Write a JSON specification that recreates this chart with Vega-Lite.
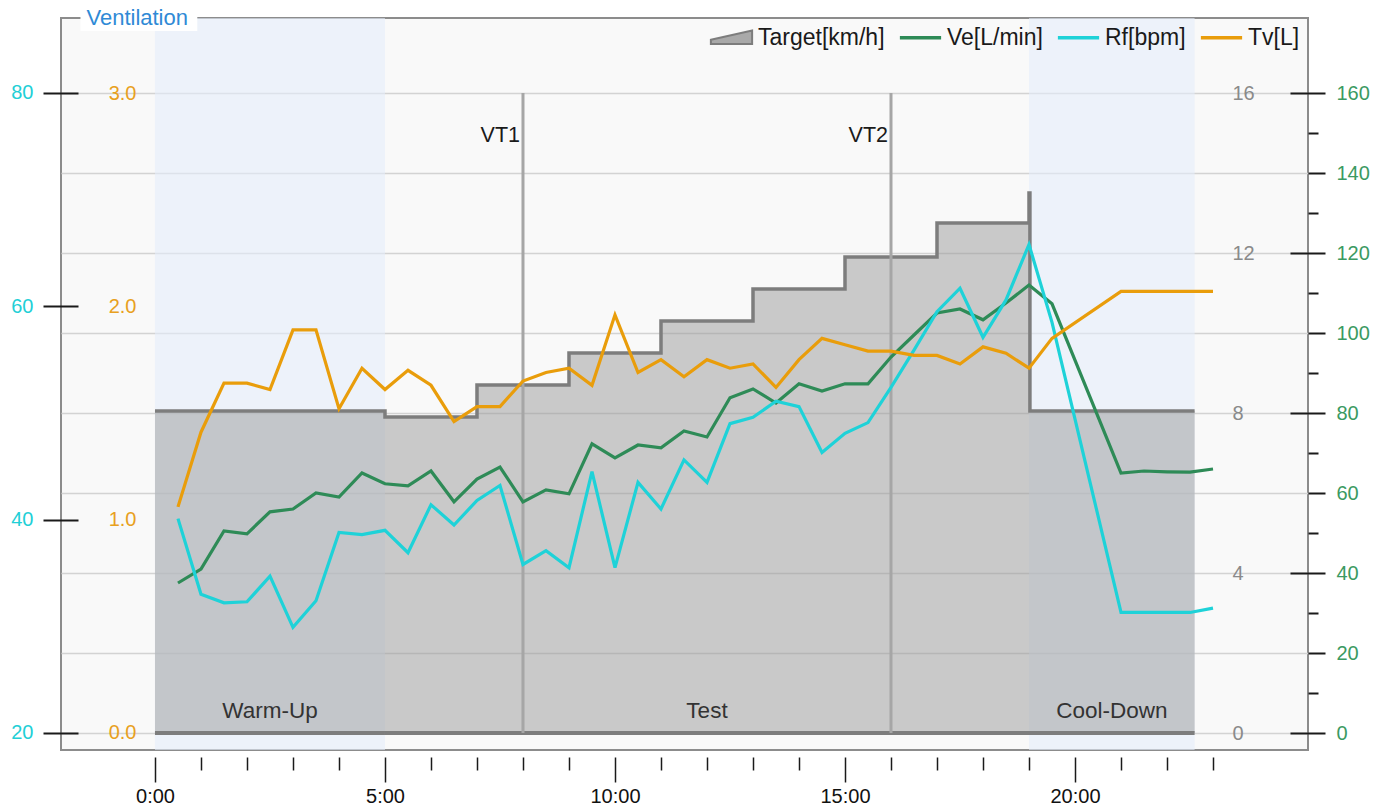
{
  "$schema": "https://vega.github.io/schema/vega-lite/v6.json",
  "width": 1247,
  "height": 732,
  "autosize": {"type": "none"},
  "padding": {"left": 61, "top": 18, "right": 83, "bottom": 56},
  "background": "#ffffff",
  "config": {
    "font": "Liberation Sans",
    "view": {"fill": "#f9f9f9", "stroke": "#8c8c8c", "strokeWidth": 2},
    "axis": {"labelFont": "Liberation Sans"},
    "legend": {"labelFont": "Liberation Sans"},
    "text": {"font": "Liberation Sans"}
  },
  "datasets": {
    "vent": [
      {"t": 0.5, "ve": 37.5, "rf": 40.1, "tv": 1.06},
      {"t": 1.0, "ve": 41.0, "rf": 33.0, "tv": 1.41},
      {"t": 1.5, "ve": 50.5, "rf": 32.2, "tv": 1.64},
      {"t": 2.0, "ve": 49.8, "rf": 32.3, "tv": 1.64},
      {"t": 2.5, "ve": 55.3, "rf": 34.7, "tv": 1.61},
      {"t": 3.0, "ve": 56.0, "rf": 29.9, "tv": 1.89},
      {"t": 3.5, "ve": 60.0, "rf": 32.4, "tv": 1.89},
      {"t": 4.0, "ve": 59.0, "rf": 38.8, "tv": 1.52},
      {"t": 4.5, "ve": 65.0, "rf": 38.6, "tv": 1.71},
      {"t": 5.0, "ve": 62.3, "rf": 39.0, "tv": 1.61},
      {"t": 5.5, "ve": 61.8, "rf": 36.9, "tv": 1.70},
      {"t": 6.0, "ve": 65.5, "rf": 41.4, "tv": 1.63},
      {"t": 6.5, "ve": 57.8, "rf": 39.5, "tv": 1.46},
      {"t": 7.0, "ve": 63.5, "rf": 41.8, "tv": 1.53},
      {"t": 7.5, "ve": 66.5, "rf": 43.2, "tv": 1.53},
      {"t": 8.0, "ve": 57.8, "rf": 35.8, "tv": 1.65},
      {"t": 8.5, "ve": 60.8, "rf": 37.1, "tv": 1.69},
      {"t": 9.0, "ve": 59.8, "rf": 35.5, "tv": 1.71},
      {"t": 9.5, "ve": 72.3, "rf": 44.5, "tv": 1.63},
      {"t": 10.0, "ve": 68.8, "rf": 35.5, "tv": 1.96},
      {"t": 10.5, "ve": 72.0, "rf": 43.5, "tv": 1.69},
      {"t": 11.0, "ve": 71.3, "rf": 41.0, "tv": 1.75},
      {"t": 11.5, "ve": 75.5, "rf": 45.6, "tv": 1.67},
      {"t": 12.0, "ve": 74.0, "rf": 43.5, "tv": 1.75},
      {"t": 12.5, "ve": 83.8, "rf": 49.0, "tv": 1.71},
      {"t": 13.0, "ve": 86.0, "rf": 49.6, "tv": 1.73},
      {"t": 13.5, "ve": 82.5, "rf": 51.1, "tv": 1.62},
      {"t": 14.0, "ve": 87.3, "rf": 50.6, "tv": 1.75},
      {"t": 14.5, "ve": 85.5, "rf": 46.3, "tv": 1.85},
      {"t": 15.0, "ve": 87.3, "rf": 48.1, "tv": 1.82},
      {"t": 15.5, "ve": 87.3, "rf": 49.1, "tv": 1.79},
      {"t": 16.0, "ve": 94.0, "rf": 52.4, "tv": 1.79},
      {"t": 16.5, "ve": 99.5, "rf": 55.9, "tv": 1.77},
      {"t": 17.0, "ve": 105.0, "rf": 59.5, "tv": 1.77},
      {"t": 17.5, "ve": 106.0, "rf": 61.7, "tv": 1.73},
      {"t": 18.0, "ve": 103.3, "rf": 57.1, "tv": 1.81},
      {"t": 18.5, "ve": 107.5, "rf": 60.6, "tv": 1.78},
      {"t": 19.0, "ve": 112.0, "rf": 65.8, "tv": 1.71},
      {"t": 19.5, "ve": 107.3, "rf": 58.5, "tv": 1.85},
      {"t": 21.0, "ve": 65.0, "rf": 31.3, "tv": 2.07},
      {"t": 21.5, "ve": 65.5, "rf": 31.3, "tv": 2.07},
      {"t": 22.0, "ve": 65.3, "rf": 31.3, "tv": 2.07},
      {"t": 22.5, "ve": 65.2, "rf": 31.3, "tv": 2.07},
      {"t": 23.0, "ve": 66.0, "rf": 31.7, "tv": 2.07}
    ],
    "target": [
      {"t": 0, "target": 8.05},
      {"t": 5, "target": 7.9},
      {"t": 7, "target": 8.7},
      {"t": 9, "target": 9.5},
      {"t": 11, "target": 10.3},
      {"t": 13, "target": 11.1},
      {"t": 15, "target": 11.9},
      {"t": 17, "target": 12.75},
      {"t": 19, "target": 13.5},
      {"t": 19.02, "target": 8.05},
      {"t": 22.6, "target": 8.05}
    ],
    "phases": [
      {"phase": "Warm-Up", "start": 0, "end": 5},
      {"phase": "Test", "start": 5, "end": 19},
      {"phase": "Cool-Down", "start": 19, "end": 22.6}
    ],
    "vt": [
      {"vt": "VT1", "t": 8},
      {"vt": "VT2", "t": 16}
    ],
    "heading": [
      {"title": "Ventilation", "from": -1.62, "to": 0.92}
    ]
  },
  "layer": [
    {
      "data": {"name": "phases"},
      "transform": [{"filter": "datum.phase !== 'Test'"}],
      "mark": {"type": "rect", "color": "#e5edfa", "opacity": 0.6},
      "encoding": {
        "x": {
          "field": "start", "type": "quantitative",
          "scale": {"domain": [-2.043, 25.065], "nice": false, "zero": false},
          "axis": {
            "title": null, "orient": "bottom", "offset": 7, "domain": false, "grid": false,
            "values": [0,1,2,3,4,5,6,7,8,9,10,11,12,13,14,15,16,17,18,19,20,21,22,23],
            "tickSize": 25, "tickWidth": 1.5, "tickColor": "#1a1a1a",
            "tickDash": {"condition": {"test": "datum.value % 5 !== 0", "value": [13, 40]}, "value": [40, 0]},
            "labelExpr": "datum.value % 5 === 0 ? datum.value + ':00' : ''",
            "labelPadding": 4, "labelFontSize": 20, "labelColor": "#111111",
            "labelFlush": false, "labelOverlap": false
          }
        },
        "x2": {"field": "end"}
      }
    },
    {
      "layer": [
        {
          "data": {"name": "target"},
          "mark": {"type": "area", "interpolate": "step-after", "color": "#9a9a9a", "opacity": 0.5},
          "encoding": {
            "x": {"field": "t", "type": "quantitative"},
            "y": {
              "field": "target", "type": "quantitative",
              "scale": {"domain": [-0.425, 17.875], "nice": false, "zero": false},
              "axis": {
                "title": null, "orient": "right", "offset": -76, "values": [0, 4, 8, 12, 16],
                "ticks": false, "tickSize": 0, "labelPadding": 0, "labelAlign": "left",
                "labelColor": "#8a8a8a", "labelFontSize": 20, "domain": false, "grid": false, "labelFlush": false
              }
            }
          }
        },
        {
          "data": {"name": "target"},
          "mark": {"type": "line", "interpolate": "step-after", "color": "#7d7d7d", "strokeWidth": 3.5},
          "encoding": {
            "x": {"field": "t", "type": "quantitative"},
            "y": {"field": "target", "type": "quantitative"}
          }
        },
        {
          "data": {"name": "phases"},
          "mark": {"type": "rule", "color": "#7d7d7d", "strokeWidth": 4},
          "encoding": {
            "x": {"field": "start", "type": "quantitative"},
            "x2": {"field": "end"},
            "y": {"datum": 0, "type": "quantitative"}
          }
        }
      ]
    },
    {
      "layer": [
        {
          "data": {"name": "vt"},
          "mark": {"type": "rule", "color": "#a6a6a6", "strokeWidth": 3},
          "encoding": {
            "x": {"field": "t", "type": "quantitative"},
            "y": {"datum": 0, "type": "quantitative"},
            "y2": {"datum": 160}
          }
        },
        {
          "data": {"name": "vt"},
          "mark": {"type": "text", "align": "right", "baseline": "middle", "dx": -3, "fontSize": 21.5, "color": "#1a1a1a"},
          "encoding": {
            "x": {"field": "t", "type": "quantitative"},
            "y": {"datum": 149.25, "type": "quantitative"},
            "text": {"field": "vt"}
          }
        },
        {
          "data": {"name": "phases"},
          "transform": [{"calculate": "(datum.start + datum.end) / 2", "as": "mid"}],
          "mark": {"type": "text", "baseline": "middle", "fontSize": 22.5, "color": "#333333"},
          "encoding": {
            "x": {"field": "mid", "type": "quantitative"},
            "y": {"datum": 5.5, "type": "quantitative"},
            "text": {"field": "phase"}
          }
        },
        {
          "data": {"name": "heading"},
          "mark": {"type": "rect", "color": "#ffffff"},
          "encoding": {
            "x": {"field": "from", "type": "quantitative"},
            "x2": {"field": "to"},
            "y": {"datum": 175.5, "type": "quantitative"},
            "y2": {"datum": 179.0}
          }
        },
        {
          "data": {"name": "heading"},
          "mark": {"type": "text", "align": "left", "baseline": "middle", "dx": 6, "fontSize": 22, "color": "#2f8ad6"},
          "encoding": {
            "x": {"field": "from", "type": "quantitative"},
            "y": {"datum": 178.75, "type": "quantitative"},
            "text": {"field": "title"}
          }
        },
        {
          "data": {"name": "vent"},
          "mark": {"type": "line", "strokeWidth": 3.2},
          "encoding": {
            "x": {"field": "t", "type": "quantitative"},
            "y": {
              "field": "ve", "type": "quantitative",
              "scale": {"domain": [-4.25, 178.75], "nice": false, "zero": false},
              "axis": {
                "title": null, "orient": "right", "offset": -18, "domain": false,
                "values": [0,10,20,30,40,50,60,70,80,90,100,110,120,130,140,150,160],
                "tickSize": 35, "tickWidth": 2, "tickColor": "#1a1a1a",
                "tickDash": {"condition": [{"test": "datum.value % 40 === 0", "value": [40, 0]}, {"test": "datum.value % 20 === 0", "value": [0, 18, 17, 10]}], "value": [0, 18, 10, 30]},
                "labelExpr": "datum.value % 20 === 0 ? datum.label : ''",
                "labelPadding": 11, "labelColor": "#3b9a62", "labelFontSize": 20,
                "labelFlush": false, "labelOverlap": false,
                "grid": true, "gridColor": "#d3d3d3", "gridWidth": 1.5,
                "gridOpacity": {"condition": {"test": "datum.value % 20 === 0", "value": 1}, "value": 0}
              }
            },
            "color": {
              "datum": "Ve[L/min]", "type": "nominal",
              "scale": {"domain": ["Target[km/h]", "Ve[L/min]", "Rf[bpm]", "Tv[L]"], "range": ["#7d7d7d", "#2e8b57", "#1ed2d8", "#e99d0b"]},
              "legend": {
                "title": null, "orient": "top-right", "direction": "horizontal", "offset": 8, "padding": 0,
                "symbolType": "stroke", "symbolSize": 1700, "symbolStrokeWidth": 3.5,
                "labelFontSize": 23, "labelColor": "#1a1a1a", "labelOffset": 15, "columnPadding": 7, "labelLimit": 300,
                "encode": {
                  "symbols": {
                    "update": {
                      "shape": {"signal": "datum.value === 'Target[km/h]' ? 'M-1,0.1L1,-0.35L1,0.3L-1,0.3Z' : 'stroke'"},
                      "fill": {"signal": "datum.value === 'Target[km/h]' ? '#a9a9a9' : 'transparent'"},
                      "strokeWidth": {"signal": "datum.value === 'Target[km/h]' ? 2 : 3.5"}
                    }
                  }
                }
              }
            }
          }
        }
      ]
    },
    {
      "data": {"name": "vent"},
      "mark": {"type": "line", "strokeWidth": 3.2},
      "encoding": {
        "x": {"field": "t", "type": "quantitative"},
        "y": {
          "field": "rf", "type": "quantitative",
          "scale": {"domain": [18.406, 87.031], "nice": false, "zero": false},
          "axis": {
            "title": null, "orient": "left", "offset": -17, "values": [20, 40, 60, 80],
            "tickSize": 35, "tickWidth": 2, "tickColor": "#1a1a1a", "labelPadding": 10,
            "labelColor": "#22cfd6", "labelFontSize": 20, "domain": false, "grid": false, "labelFlush": false
          }
        },
        "color": {"datum": "Rf[bpm]", "type": "nominal"}
      }
    },
    {
      "data": {"name": "vent"},
      "mark": {"type": "line", "strokeWidth": 3.2},
      "encoding": {
        "x": {"field": "t", "type": "quantitative"},
        "y": {
          "field": "tv", "type": "quantitative",
          "scale": {"domain": [-0.0797, 3.3516], "nice": false, "zero": false},
          "axis": {
            "title": null, "orient": "left", "offset": -77, "values": [0, 1, 2, 3], "format": ".1f",
            "ticks": false, "tickSize": 0, "labelPadding": 2,
            "labelColor": "#e8a020", "labelFontSize": 20, "domain": false, "grid": false, "labelFlush": false
          }
        },
        "color": {"datum": "Tv[L]", "type": "nominal"}
      }
    }
  ],
  "resolve": {"scale": {"y": "independent"}}
}
